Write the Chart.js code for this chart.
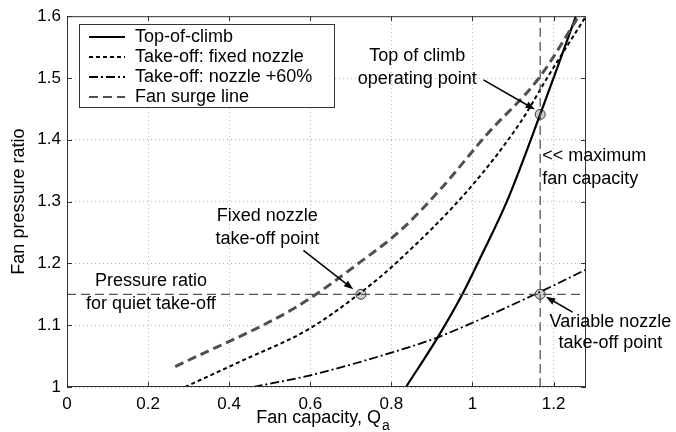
<!DOCTYPE html>
<html>
<head>
<meta charset="utf-8">
<script src="https://cdn.jsdelivr.net/npm/chart.js@4.4.1/dist/chart.umd.min.js"></script>
<style>
  html, body { margin: 0; padding: 0; background: #fff; }
  #wrap { width: 676px; height: 432px; }
</style>
</head>
<body>
<div id="wrap"><canvas id="fanChart"></canvas></div>
<script>
// Fan working lines
const climbQ  = [0.836, 0.914, 0.975, 1.020, 1.086, 1.167, 1.210, 1.255];
const climbPR = [1.000, 1.080, 1.150, 1.210, 1.302, 1.441, 1.518, 1.600];

const fixedQ  = [0.291, 0.440, 0.592, 0.723, 0.822, 0.995, 1.120, 1.184, 1.280];
const fixedPR = [1.000, 1.045, 1.092, 1.152, 1.207, 1.323, 1.430, 1.500, 1.600];

const openQ  = [0.460, 0.600, 0.822, 0.913, 1.000, 1.164, 1.280];
const openPR = [1.000, 1.019, 1.060, 1.080, 1.104, 1.153, 1.190];

const surgeQ  = [0.267, 0.567, 0.723, 0.822, 0.921, 1.036, 1.164, 1.262];
const surgePR = [1.033, 1.130, 1.202, 1.253, 1.320, 1.409, 1.500, 1.600];

// operating points
const pointQ  = [0.725, 1.167, 1.167];
const pointPR = [1.150, 1.150, 1.441];

const quietPR = 1.15;   // pressure ratio for quiet take-off
const maxQ = 1.167;     // maximum fan capacity

const qMin = 0, qMax = 1.28;
const prMin = 1, prMax = 1.6;
const xTickValues = [0, 0.2, 0.4, 0.6, 0.8, 1, 1.2];
const yTickValues = [1, 1.1, 1.2, 1.3, 1.4, 1.5, 1.6];

const legendLabels = ['Top-of-climb', 'Take-off: fixed nozzle', 'Take-off: nozzle +60%', 'Fan surge line'];

const FONT = '"Liberation Sans", Arial, sans-serif';

function pairs(xs, ys) {
    return xs.map(function(x, i) { return { x: x, y: ys[i] }; });
}

const lineStyles = [
    { color: '#000', width: 2.2, dash: [] },
    { color: '#000', width: 2, dash: [4, 3] },
    { color: '#000', width: 1.8, dash: [9, 3, 2, 3] },
    { color: '#505050', width: 3, dash: [9, 5] }
];

// text notes placed in data coordinates
const notes = [
    { lines: ['Top of climb', 'operating point'], x: 0.864, y: [1.535, 1.499], align: 'center' },
    { lines: ['<< maximum', 'fan capacity'], x: 1.172, y: [1.373, 1.337], align: 'left' },
    { lines: ['Fixed nozzle', 'take-off point'], x: 0.494, y: [1.277, 1.240], align: 'center' },
    { lines: ['Pressure ratio', 'for quiet take-off'], x: 0.207, y: [1.171, 1.135], align: 'center' },
    { lines: ['Variable nozzle', 'take-off point'], x: 1.340, y: [1.105, 1.071], align: 'center' }
];
const arrows = [
    { from: [1.027, 1.497], to: [1.154, 1.449] },
    { from: [0.583, 1.221], to: [0.706, 1.158] },
    { from: [1.247, 1.121], to: [1.181, 1.146] }
];

const decorPlugin = {
    id: 'decor',
    afterDatasetsDraw: function(chart) {
        const ctx = chart.ctx;
        const a = chart.chartArea;
        const xs = chart.scales.x, ys = chart.scales.y;
        ctx.save();

        // frame and inward ticks
        ctx.strokeStyle = '#333';
        ctx.lineWidth = 1;
        ctx.setLineDash([]);
        ctx.strokeRect(a.left + 0.5, a.top + 0.5, a.right - a.left - 1, a.bottom - a.top - 1);
        ctx.beginPath();
        xTickValues.forEach(function(v) {
            const px = Math.round(xs.getPixelForValue(v)) + 0.5;
            ctx.moveTo(px, a.bottom); ctx.lineTo(px, a.bottom - 5);
            ctx.moveTo(px, a.top); ctx.lineTo(px, a.top + 5);
        });
        yTickValues.forEach(function(v) {
            const py = Math.round(ys.getPixelForValue(v)) + 0.5;
            ctx.moveTo(a.left, py); ctx.lineTo(a.left + 5, py);
            ctx.moveTo(a.right, py); ctx.lineTo(a.right - 5, py);
        });
        ctx.stroke();

        // legend box
        const lx = 79, ly = 24, lw = 255, lh = 83;
        ctx.fillStyle = '#fff';
        ctx.fillRect(lx, ly, lw, lh);
        ctx.strokeStyle = '#333';
        ctx.strokeRect(lx + 0.5, ly + 0.5, lw, lh);
        ctx.font = '18px ' + FONT;
        ctx.textBaseline = 'middle';
        ctx.textAlign = 'left';
        legendLabels.forEach(function(label, i) {
            const yy = ly + 13 + i * 20;
            const s = lineStyles[i];
            ctx.strokeStyle = s.color;
            ctx.lineWidth = Math.min(s.width, 2);
            ctx.setLineDash(s.dash);
            ctx.beginPath();
            ctx.moveTo(lx + 10, yy); ctx.lineTo(lx + 46, yy);
            ctx.stroke();
            ctx.fillStyle = '#000';
            ctx.fillText(label, lx + 56, yy);
        });
        ctx.setLineDash([]);

        // notes
        ctx.fillStyle = '#000';
        notes.forEach(function(n) {
            ctx.textAlign = n.align;
            n.lines.forEach(function(t, i) {
                ctx.fillText(t, xs.getPixelForValue(n.x), ys.getPixelForValue(n.y[i]));
            });
        });

        // arrows
        ctx.strokeStyle = '#000';
        ctx.lineWidth = 1.5;
        arrows.forEach(function(ar) {
            const x1 = xs.getPixelForValue(ar.from[0]), y1 = ys.getPixelForValue(ar.from[1]);
            const x2 = xs.getPixelForValue(ar.to[0]), y2 = ys.getPixelForValue(ar.to[1]);
            const ang = Math.atan2(y2 - y1, x2 - x1);
            ctx.beginPath();
            ctx.moveTo(x1, y1); ctx.lineTo(x2 - 6 * Math.cos(ang), y2 - 6 * Math.sin(ang));
            ctx.stroke();
            ctx.beginPath();
            ctx.moveTo(x2, y2);
            ctx.lineTo(x2 - 10 * Math.cos(ang - 0.35), y2 - 10 * Math.sin(ang - 0.35));
            ctx.lineTo(x2 - 10 * Math.cos(ang + 0.35), y2 - 10 * Math.sin(ang + 0.35));
            ctx.closePath();
            ctx.fill();
        });

        // axis titles
        ctx.font = '18px ' + FONT;
        ctx.textAlign = 'left';
        const main = 'Fan capacity, Q';
        const mw = ctx.measureText(main).width;
        ctx.font = '14px ' + FONT;
        const sw = ctx.measureText('a').width;
        const startX = (a.left + a.right) / 2 - (mw + sw) / 2 - 4;
        ctx.font = '18px ' + FONT;
        ctx.fillText(main, startX, 418);
        ctx.font = '14px ' + FONT;
        ctx.fillText('a', startX + mw + 1, 426);

        ctx.font = '18px ' + FONT;
        ctx.translate(19, (a.top + a.bottom) / 2);
        ctx.rotate(-Math.PI / 2);
        ctx.textAlign = 'center';
        ctx.fillText('Fan pressure ratio', 0, 0);
        ctx.restore();
    }
};

function makeLine(xs, ys, s) {
    return {
        data: pairs(xs, ys),
        borderColor: s.color,
        borderWidth: s.width,
        borderDash: s.dash,
        pointRadius: 0,
        cubicInterpolationMode: 'monotone',
        fill: false
    };
}

const refStyle = { color: '#555', width: 1.3, dash: [9, 5] };

new Chart(document.getElementById('fanChart'), {
    type: 'line',
    data: {
        datasets: [
            makeLine([qMin, qMax], [quietPR, quietPR], refStyle),
            makeLine([maxQ, maxQ], [prMin, prMax], refStyle),
            makeLine(surgeQ, surgePR, lineStyles[3]),
            makeLine(openQ, openPR, lineStyles[2]),
            makeLine(fixedQ, fixedPR, lineStyles[1]),
            makeLine(climbQ, climbPR, lineStyles[0]),
            {
                data: pairs(pointQ, pointPR),
                showLine: false,
                pointRadius: 5,
                pointBackgroundColor: '#cfcfcf',
                pointBorderColor: '#333',
                pointBorderWidth: 1
            }
        ]
    },
    options: {
        responsive: true,
        maintainAspectRatio: false,
        animation: false,
        layout: { padding: { top: 15, right: 90, left: 0, bottom: 0 } },
        plugins: {
            legend: { display: false },
            tooltip: { enabled: false }
        },
        scales: {
            x: {
                type: 'linear',
                min: qMin,
                max: qMax,
                afterBuildTicks: function(scale) { scale.ticks = xTickValues.map(function(v) { return { value: v }; }); },
                afterFit: function(scale) { scale.height = 45; },
                ticks: {
                    padding: 7,
                    color: '#000',
                    font: { family: FONT, size: 17 },
                    maxRotation: 0,
                    callback: function(v) { return String(Math.round(v * 10) / 10); }
                },
                grid: { color: '#b4b4b4', lineWidth: 1, drawTicks: false },
                border: { display: false, dash: [1, 3] }
            },
            y: {
                type: 'linear',
                min: prMin,
                max: prMax,
                afterBuildTicks: function(scale) { scale.ticks = yTickValues.map(function(v) { return { value: v }; }); },
                afterFit: function(scale) { scale.width = 67; },
                ticks: {
                    padding: 6,
                    color: '#000',
                    font: { family: FONT, size: 17 },
                    callback: function(v) { return String(Math.round(v * 10) / 10); }
                },
                grid: { color: '#b4b4b4', lineWidth: 1, drawTicks: false },
                border: { display: false, dash: [1, 3] }
            }
        }
    },
    plugins: [decorPlugin]
});
</script>
</body>
</html>
